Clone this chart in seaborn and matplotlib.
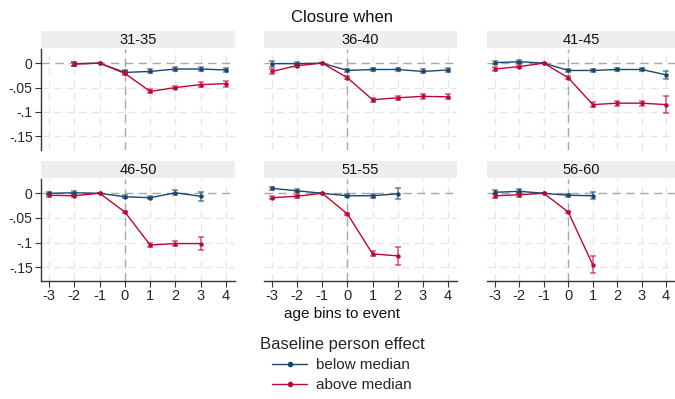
import pandas as pd
import seaborn as sns
import matplotlib.pyplot as plt
from matplotlib.lines import Line2D

groups = ["31-35", "36-40", "41-45", "46-50", "51-55", "56-60"]
bins = [-3, -2, -1, 0, 1, 2, 3, 4]

# estimates per age group (None = bin not observed)
below_3135 = [None, -0.001, 0, -0.019, -0.017, -0.012, -0.012, -0.014]
above_3135 = [None, -0.002, 0, -0.021, -0.058, -0.050, -0.044, -0.042]
below_3640 = [-0.001, -0.001, 0, -0.015, -0.013, -0.013, -0.017, -0.014]
above_3640 = [-0.017, -0.005, 0, -0.030, -0.075, -0.071, -0.068, -0.069]
below_4145 = [0.001, 0.003, 0, -0.015, -0.015, -0.013, -0.013, -0.024]
above_4145 = [-0.012, -0.007, 0, -0.030, -0.085, -0.082, -0.082, -0.085]
below_4650 = [0.000, 0.001, 0, -0.007, -0.009, 0.001, -0.006, None]
above_4650 = [-0.004, -0.005, 0, -0.038, -0.105, -0.102, -0.102, None]
below_5155 = [0.010, 0.005, 0, -0.005, -0.005, -0.001, None, None]
above_5155 = [-0.009, -0.006, 0, -0.042, -0.123, -0.127, None, None]
below_5660 = [0.002, 0.004, 0, -0.004, -0.005, None, None, None]
above_5660 = [-0.005, -0.003, 0, -0.038, -0.145, None, None, None]

# half widths of the confidence intervals
ci_below_3135 = [None, 0.004, 0, 0.004, 0.004, 0.004, 0.005, 0.005]
ci_above_3135 = [None, 0.004, 0, 0.004, 0.004, 0.004, 0.005, 0.006]
ci_below_3640 = [0.006, 0.003, 0, 0.003, 0.003, 0.003, 0.004, 0.004]
ci_above_3640 = [0.006, 0.003, 0, 0.003, 0.004, 0.004, 0.005, 0.005]
ci_below_4145 = [0.003, 0.003, 0, 0.003, 0.004, 0.004, 0.004, 0.008]
ci_above_4145 = [0.004, 0.003, 0, 0.003, 0.005, 0.005, 0.005, 0.018]
ci_below_4650 = [0.003, 0.003, 0, 0.003, 0.003, 0.005, 0.009, None]
ci_above_4650 = [0.003, 0.003, 0, 0.003, 0.004, 0.005, 0.013, None]
ci_below_5155 = [0.003, 0.003, 0, 0.003, 0.004, 0.011, None, None]
ci_above_5155 = [0.003, 0.003, 0, 0.003, 0.005, 0.018, None, None]
ci_below_5660 = [0.004, 0.004, 0, 0.003, 0.007, None, None, None]
ci_above_5660 = [0.004, 0.004, 0, 0.003, 0.017, None, None, None]

below = [below_3135, below_3640, below_4145, below_4650, below_5155, below_5660]
above = [above_3135, above_3640, above_4145, above_4650, above_5155, above_5660]
ci_below = [ci_below_3135, ci_below_3640, ci_below_4145, ci_below_4650, ci_below_5155, ci_below_5660]
ci_above = [ci_above_3135, ci_above_3640, ci_above_4145, ci_above_4650, ci_above_5155, ci_above_5660]

series = ["below median", "above median"]
colors = {"below median": "#1a476f", "above median": "#c10534"}
yticks = [0, -0.05, -0.1, -0.15]
ytick_labels = ["0", "-.05", "-.1", "-.15"]

sns.set_theme(style="white")
plt.rcParams["font.family"] = ["Liberation Sans", "DejaVu Sans"]

fig = plt.figure(figsize=(6.75, 3.99), dpi=100)
W, H = 675.0, 399.0
col_x = [(41, 235), (264, 457), (487, 675)]
row_y = [(49, 150), (179, 281)]

for i, g in enumerate(groups):
    r, c = divmod(i, 3)
    x0, x1 = col_x[c]
    y0, y1 = row_y[r]
    ax = fig.add_axes([x0 / W, 1 - y1 / H, (x1 - x0) / W, (y1 - y0) / H])

    rows = []
    for s, vals, cis in [("below median", below[i], ci_below[i]),
                         ("above median", above[i], ci_above[i])]:
        for b, v, e in zip(bins, vals, cis):
            if v is not None:
                rows.append({"bin": b, "est": v, "ci": e, "group": s})
    df = pd.DataFrame(rows)

    # grid and reference lines
    for b in bins:
        ax.axvline(b, color="#e6e6e6", lw=0.9, ls=(0, (6, 4)), zorder=0)
    for t in yticks[1:]:
        ax.axhline(t, color="#e6e6e6", lw=0.9, ls=(0, (6, 4)), zorder=0)
    ax.axhline(0, color="#a8a8a8", lw=1.0, ls=(0, (6, 4)), zorder=1)
    ax.axvline(0, color="#a8a8a8", lw=1.0, ls=(0, (6, 4)), zorder=1)

    for s in series:
        d = df[df["group"] == s]
        ax.errorbar(d["bin"], d["est"], yerr=d["ci"], fmt="none",
                    ecolor=colors[s], alpha=0.65, elinewidth=1.1,
                    capsize=2.2, capthick=1.1, zorder=2)

    sns.lineplot(data=df, x="bin", y="est", hue="group", hue_order=series,
                 palette=colors, marker="o", markersize=3.2, markeredgewidth=0,
                 linewidth=1.0, estimator=None, legend=False, ax=ax, zorder=3)

    ax.set_xlim(-3.32, 4.36)
    ax.set_ylim(-0.178, 0.029)
    ax.set_xticks(bins)
    ax.set_yticks(yticks)
    ax.set_xlabel("")
    ax.set_ylabel("")
    ax.grid(False)
    for sp in ax.spines.values():
        sp.set_visible(False)
    if c == 0:
        ax.spines["left"].set_visible(True)
        ax.spines["left"].set_color("#333333")
        ax.spines["left"].set_linewidth(1.0)
        ax.set_yticklabels(ytick_labels, fontsize=10)
        ax.tick_params(axis="y", length=4, width=0.8, color="#333333", left=True, pad=2)
    else:
        ax.tick_params(axis="y", left=False, labelleft=False)
    if r == 1:
        ax.spines["bottom"].set_visible(True)
        ax.spines["bottom"].set_color("#333333")
        ax.spines["bottom"].set_linewidth(1.0)
        ax.set_xticklabels([str(b) for b in bins], fontsize=10.5)
        ax.tick_params(axis="x", length=4, width=0.8, color="#333333", bottom=True, pad=2)
    else:
        ax.tick_params(axis="x", bottom=False, labelbottom=False)

    # strip heading
    sax = fig.add_axes([x0 / W, 1 - (y0 - 1) / H, (x1 - x0) / W, 17 / H])
    sax.set_facecolor("#eeeeee")
    sax.set_xticks([])
    sax.set_yticks([])
    for sp in sax.spines.values():
        sp.set_visible(False)
    sax.text(0.5, 0.45, g, ha="center", va="center", fontsize=10.5, color="#111111")

fig.text(342 / W, 1 - 17 / H, "Closure when", ha="center", va="center", fontsize=12, color="#111111")
fig.text(342 / W, 1 - 314 / H, "age bins to event", ha="center", va="center", fontsize=11, color="#111111")

handles = [Line2D([0], [0], color=colors[s], lw=1.0, marker="o", markersize=3) for s in series]
fig.legend(handles, series, title="Baseline person effect", loc="upper center",
           bbox_to_anchor=(342 / W, 1 - 329 / H), frameon=False, fontsize=11,
           title_fontsize=12, handlelength=2.3, labelspacing=0.42, borderpad=0,
           handletextpad=0.6)

fig.savefig("out.png", dpi=100)
